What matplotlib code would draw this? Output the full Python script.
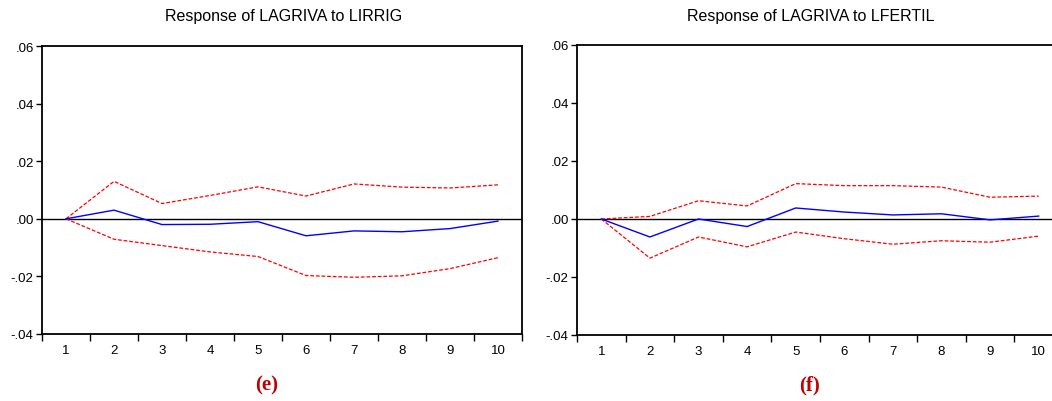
import matplotlib.pyplot as plt
from matplotlib.ticker import FuncFormatter, MultipleLocator

periods = [1, 2, 3, 4, 5, 6, 7, 8, 9, 10]

# (e) Response of LAGRIVA to LIRRIG
irrig_resp = [0.0, 0.0030, -0.0020, -0.0019, -0.0010, -0.0059, -0.0042, -0.0045, -0.0034, -0.0008]
irrig_upper = [0.0, 0.0130, 0.0053, 0.0081, 0.0111, 0.0079, 0.0121, 0.0110, 0.0107, 0.0118]
irrig_lower = [0.0, -0.0071, -0.0093, -0.0115, -0.0131, -0.0197, -0.0203, -0.0198, -0.0173, -0.0135]

# (f) Response of LAGRIVA to LFERTIL
fert_resp = [0.0, -0.0062, 0.0, -0.0026, 0.0038, 0.0024, 0.0014, 0.0018, -0.0003, 0.0010]
fert_upper = [0.0, 0.0009, 0.0063, 0.0045, 0.0122, 0.0115, 0.0115, 0.0110, 0.0075, 0.0079]
fert_lower = [0.0, -0.0135, -0.0062, -0.0096, -0.0045, -0.0068, -0.0087, -0.0075, -0.0080, -0.0059]

titles = ['Response of LAGRIVA to LIRRIG', 'Response of LAGRIVA to LFERTIL']
panel_labels = ['(e)', '(f)']

plt.rcParams['font.family'] = ['Liberation Sans', 'DejaVu Sans']


def fmt_y(v, pos):
    s = f'{v:.2f}'
    return s.replace('0.', '.')


def irf_panel(ax, resp, upper, lower):
    ax.plot(periods, upper, color='red', linestyle=(0, (3, 1.5)), linewidth=0.9)
    ax.plot(periods, lower, color='red', linestyle=(0, (3, 1.5)), linewidth=0.9)
    ax.plot(periods, resp, color='blue', linewidth=1.0)
    ax.axhline(0, color='black', linewidth=1.0, zorder=1)
    ax.set_xlim(0.5, 10.5)
    ax.set_ylim(-0.04, 0.06)
    ax.set_yticks([-0.04, -0.02, 0.0, 0.02, 0.04, 0.06])
    ax.yaxis.set_major_formatter(FuncFormatter(fmt_y))
    ax.set_xticks(periods)
    ax.xaxis.set_minor_locator(MultipleLocator(1, offset=0.5))
    ax.tick_params(axis='x', which='major', length=0, pad=7, labelsize=9.5)
    ax.tick_params(axis='x', which='minor', length=5, width=1, direction='out')
    ax.tick_params(axis='y', length=4, width=1, direction='out', pad=2, labelsize=9.5)
    for sp in ax.spines.values():
        sp.set_linewidth(1.3)


fig = plt.figure(figsize=(10.52, 4.02), dpi=100)
ax1 = fig.add_axes([42 / 1052, 67 / 402, 480 / 1052, 288 / 402])
ax2 = fig.add_axes([577 / 1052, 66 / 402, 486 / 1052, 290 / 402])

irf_panel(ax1, irrig_resp, irrig_upper, irrig_lower)
irf_panel(ax2, fert_resp, fert_upper, fert_lower)

fig.text(284 / 1052, 1 - 16 / 402, titles[0], ha='center', va='center', fontsize=11.5)
fig.text(811 / 1052, 1 - 16 / 402, titles[1], ha='center', va='center', fontsize=11.5)

serif = ['Liberation Serif', 'DejaVu Serif']
fig.text(267 / 1052, 1 - 385 / 402, panel_labels[0], ha='center', va='center', fontsize=15,
         fontweight='bold', color='#c00000', family=serif)
fig.text(810 / 1052, 1 - 385 / 402, panel_labels[1], ha='center', va='center', fontsize=15,
         fontweight='bold', color='#c00000', family=serif)

plt.savefig('out.png', dpi=100)
